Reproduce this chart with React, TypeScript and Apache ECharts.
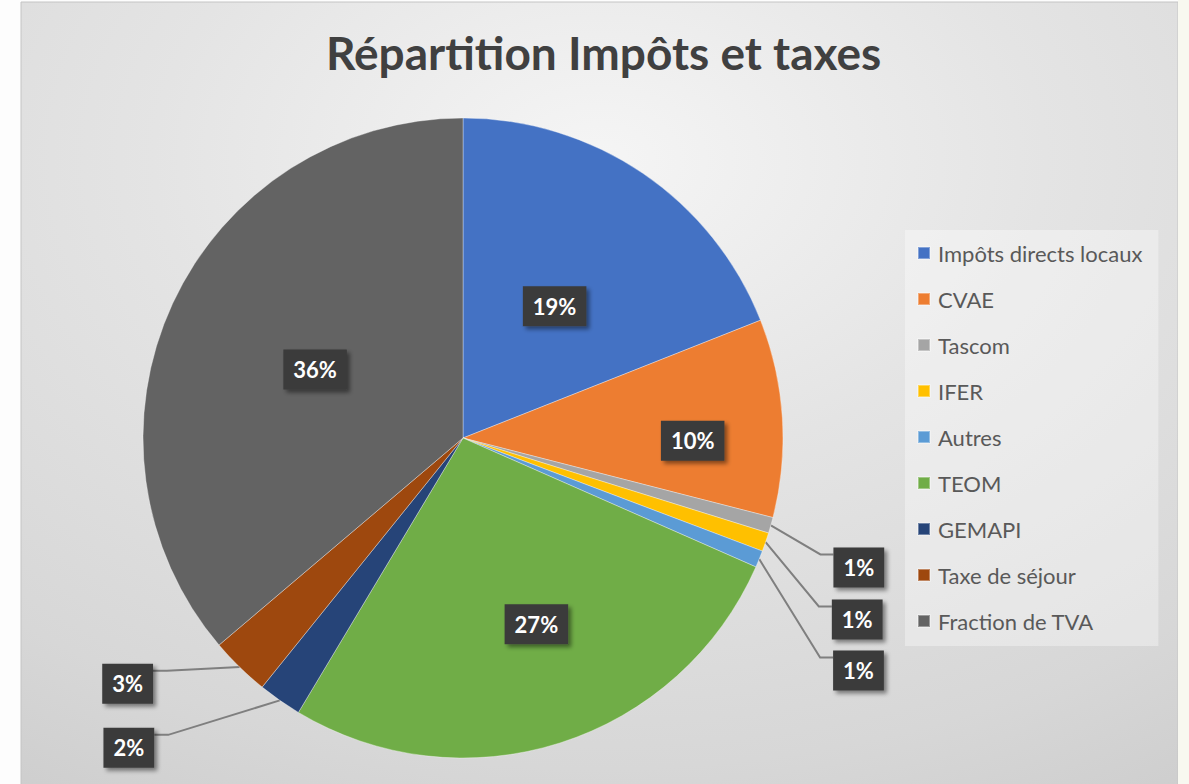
import React, { useEffect, useRef } from "react";
import * as echarts from "echarts";

const title = "Répartition Impôts et taxes";
const categories = [
  "Impôts directs locaux",
  "CVAE",
  "Tascom",
  "IFER",
  "Autres",
  "TEOM",
  "GEMAPI",
  "Taxe de séjour",
  "Fraction de TVA",
];
const values = [19.0, 10.0, 0.8, 0.95, 0.85, 27.0, 2.2, 3.0, 36.2];
const colors = [
  "#4472C4",
  "#ED7D31",
  "#A5A5A5",
  "#FFC000",
  "#5B9BD5",
  "#70AD47",
  "#264478",
  "#9E480E",
  "#636363",
];
const outsideLabels = [2, 3, 4, 6, 7];

// label nudges (dx, dy) to mimic the spreadsheet's "best fit" placement
const labelNudge: Record<number, [number, number]> = {
  1: [67, 13],
  5: [24, 31],
  0: [0, 3],
  2: [2, 38],
  3: [8, 48],
  4: [20, 57],
  7: [-30, 6],
  6: [-77, 28],
};

export default function App() {
  const ref = useRef<HTMLDivElement>(null);
  useEffect(() => {
    if (!ref.current) return;
    const chart = echarts.init(ref.current, undefined, { renderer: "svg" });
    const font = "Lato, 'Open Sans', sans-serif";
    chart.setOption({
      animation: false,
      backgroundColor: "#fdfdfd",
      graphic: [
        {
          type: "rect",
          silent: true,
          z: -10,
          shape: { x: 21, y: 2, width: 1157, height: 790 },
          style: {
            fill: new echarts.graphic.RadialGradient(0.5, 0.2, 1.1, [
              { offset: 0, color: "#f5f5f5" },
              { offset: 0.35, color: "#e4e4e4" },
              { offset: 0.7, color: "#d7d7d7" },
              { offset: 1, color: "#c6c6c6" },
            ]),
            stroke: "#c4c4c4",
            lineWidth: 1,
          },
        },
        {
          type: "rect",
          silent: true,
          z: -10,
          shape: { x: 1178, y: 0, width: 11, height: 784 },
          style: { fill: "#f8f8f0" },
        },
      ],
      title: {
        text: title,
        left: 321,
        top: 24,
        padding: 5,
        textStyle: {
          fontFamily: font,
          fontWeight: "bold",
          fontSize: 46,
          color: "#404040",
        },
      },
      legend: {
        orient: "vertical",
        left: 905,
        top: 230,
        padding: [12, 16, 14, 12],
        itemGap: 24,
        itemWidth: 12,
        itemHeight: 12,
        icon: "rect",
        backgroundColor: "rgba(255,255,255,0.35)",
        data: categories,
        textStyle: {
          fontFamily: font,
          fontSize: 22,
          lineHeight: 22,
          color: "#595959",
          padding: [0, 0, 0, 3],
        },
      },
      series: [
        {
          type: "pie",
          center: [463, 438],
          radius: 320,
          startAngle: 90,
          clockwise: true,
          avoidLabelOverlap: true,
          emphasis: { disabled: true },
          itemStyle: { borderColor: "rgba(255,255,255,0.35)", borderWidth: 1 },
          label: {
            show: true,
            position: "inside",
            formatter: (p: any) => Math.round(p.percent) + "%",
            fontFamily: font,
            fontWeight: "bold",
            fontSize: 22,
            color: "#ffffff",
            backgroundColor: "#3b3b3b",
            padding: [9, 10, 9, 10],
            shadowColor: "rgba(0,0,0,0.45)",
            shadowBlur: 4,
            shadowOffsetX: 3,
            shadowOffsetY: 3,
          },
          labelLine: {
            show: true,
            length: 15,
            length2: 40,
            lineStyle: { color: "#7f7f7f", width: 2 },
          },
          labelLayout: (p: any) => {
            const n = labelNudge[p.dataIndex];
            if (!n) return {};
            if (!outsideLabels.includes(p.dataIndex)) return { dx: n[0], dy: n[1] };
            const r = p.labelRect;
            const isLeft = p.align === "right";
            const x = (isLeft ? r.x + r.width : r.x) + n[0];
            const y = r.y + r.height / 2 + n[1];
            const attachY = y - r.height / 2 + 7;
            const start = p.labelLinePoints ? p.labelLinePoints[0] : [x, attachY];
            const elbowX = isLeft ? x + 14 : x - 13;
            return {
              x,
              y,
              labelLinePoints: [start, [elbowX, attachY], [x, attachY]],
            };
          },
          data: categories.map((name, i) => ({
            name,
            value: values[i],
            itemStyle: { color: colors[i] },
            label: outsideLabels.includes(i)
              ? { position: "outside", distanceToLabelLine: 0 }
              : { position: "inside" },
          })),
        },
      ],
    });
    return () => chart.dispose();
  }, []);
  return (
    <div
      ref={ref}
      style={{ position: "fixed", left: 0, top: 0, width: 1189, height: 784 }}
    />
  );
}
